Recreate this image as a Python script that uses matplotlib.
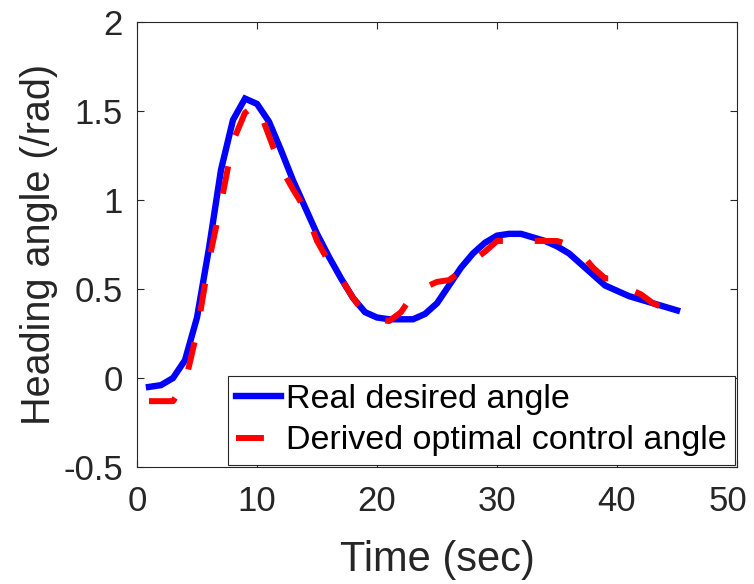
import matplotlib
matplotlib.use('Agg')
import matplotlib.pyplot as plt
import matplotlib.transforms as mtransforms

plt.rcParams['font.family'] = ['Liberation Sans', 'DejaVu Sans']

# time samples (sec)
time = list(range(1, 46))

# real desired heading angle (rad)
desired = [-0.05, -0.04, 0.00, 0.10, 0.34, 0.73, 1.17, 1.45, 1.57, 1.54,
           1.44, 1.28, 1.11, 0.96, 0.81, 0.68, 0.56, 0.45, 0.37, 0.34,
           0.33, 0.33, 0.33, 0.36, 0.42, 0.52, 0.62, 0.70, 0.76, 0.80,
           0.81, 0.81, 0.79, 0.77, 0.74, 0.70, 0.64, 0.58, 0.52, 0.49,
           0.46, 0.44, 0.42, 0.40, 0.38]

# derived optimal control angle (rad)
control = [-0.13, -0.13, -0.13, -0.03, 0.26, 0.66, 0.98, 1.33, 1.49, 1.54,
           1.36, 1.18, 1.06, 0.95, 0.77, 0.65, 0.56, 0.45, 0.36, 0.33,
           0.32, 0.37, 0.47, 0.51, 0.54, 0.55, 0.60, 0.66, 0.71, 0.77,
           0.77, 0.77, 0.77, 0.77, 0.77, 0.75, 0.70, 0.62, 0.56, 0.56,
           0.50, 0.47, 0.42, 0.39, 0.37]

xticks = [0, 10, 20, 30, 40, 50]
yticks = [-0.5, 0, 0.5, 1, 1.5, 2]
yticklabels = ['-0.5', '0', '0.5', '1', '1.5', '2']

fig = plt.figure(figsize=(7.54, 5.84), dpi=100)
ax = fig.add_axes([0.1817, 0.2003, 0.7958, 0.7620])

ax.plot(time, desired, color='#0000ff', lw=4.6, label='Real desired angle',
        solid_joinstyle='miter')
ax.plot(time, control, color='#ff0000', lw=4.3, dashes=(4.67, 5.33),
        label='Derived optimal control angle')

ax.set_xlim(0, 50)
ax.set_ylim(-0.5, 2)
ax.set_xticks(xticks)
ax.set_xticklabels([str(t) for t in xticks])
ax.set_yticks(yticks)
ax.set_yticklabels(yticklabels)

ax.tick_params(direction='in', length=5, width=0.8, color='#262626',
               labelsize=25, labelcolor='#262626', top=True, right=True)
ax.tick_params(axis='x', pad=13)
ax.tick_params(axis='y', pad=10)
for s in ax.spines.values():
    s.set_color('#262626')
    s.set_linewidth(0.8)

# last x label pulled inside the figure a bit, like the original
last = ax.get_xticklabels()[-1]
last.set_transform(last.get_transform() +
                   mtransforms.ScaledTranslation(-9 / 100, 0, fig.dpi_scale_trans))

ax.set_xlabel('Time (sec)', fontsize=30, color='#262626', labelpad=16)
ax.set_ylabel('Heading angle (/rad)', fontsize=28.5, color='#262626', labelpad=4)

leg = ax.legend(loc='lower right', fontsize=24.5, fancybox=False, framealpha=1,
                edgecolor='#262626', handlelength=1.3, handletextpad=0.15,
                labelspacing=0.3, borderpad=0.25, borderaxespad=0.06)
leg.get_frame().set_linewidth(0.8)

fig.savefig('out.png', dpi=100)
